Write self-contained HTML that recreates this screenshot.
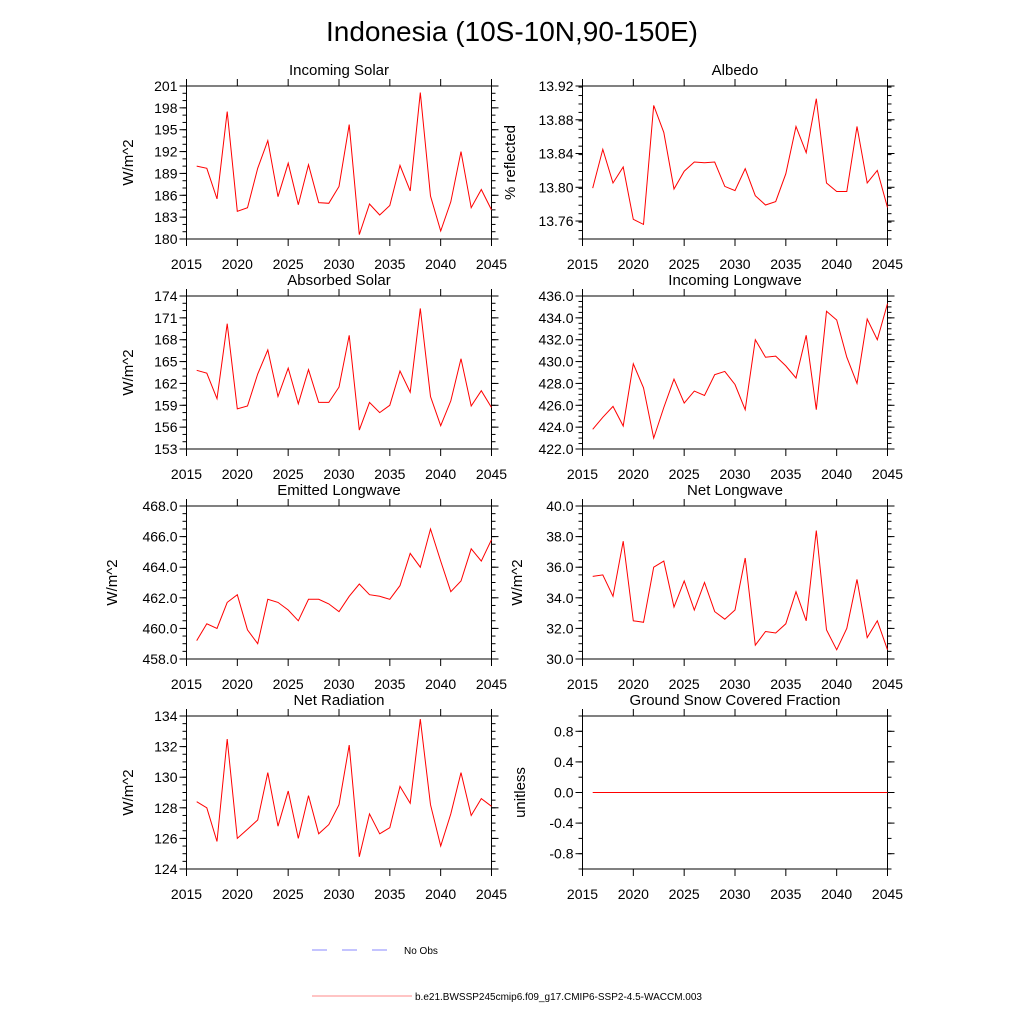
<!DOCTYPE html>
<html><head><meta charset="utf-8"><style>
body{margin:0;background:#fff}
svg{display:block}
text{font-family:"Liberation Sans",sans-serif;fill:#000}
</style></head><body>
<svg id="fig" width="1024" height="1024" viewBox="0 0 1024 1024" xmlns="http://www.w3.org/2000/svg">
<text x="512" y="41" font-size="28" text-anchor="middle">Indonesia (10S-10N,90-150E)</text>
<g>
<line x1="312" y1="950" x2="402" y2="950" stroke="#8888ff" stroke-width="1" stroke-dasharray="15,15"/>
<text x="404" y="954" font-size="10">No Obs</text>
<line x1="312" y1="996" x2="412" y2="996" stroke="#ff8888" stroke-width="1"/>
<text x="415" y="1000" font-size="10">b.e21.BWSSP245cmip6.f09_g17.CMIP6-SSP2-4.5-WACCM.003</text>
</g>
</svg>
<script>
const years = [2016,2017,2018,2019,2020,2021,2022,2023,2024,2025,2026,2027,2028,2029,2030,2031,2032,2033,2034,2035,2036,2037,2038,2039,2040,2041,2042,2043,2044,2045];
const xTicks = [2015,2020,2025,2030,2035,2040,2045];
const incomingSolar = [190.0,189.7,185.5,197.5,183.8,184.3,189.7,193.5,185.8,190.4,184.7,190.2,185.0,184.9,187.2,195.7,180.6,184.8,183.3,184.6,190.1,186.6,200.1,185.9,181.1,185.1,192.0,184.3,186.8,184.0];
const albedo = [13.799,13.845,13.805,13.824,13.762,13.756,13.897,13.865,13.798,13.819,13.830,13.829,13.830,13.801,13.796,13.822,13.790,13.779,13.783,13.816,13.872,13.841,13.905,13.805,13.795,13.795,13.872,13.805,13.820,13.776];
const absorbedSolar = [163.8,163.4,159.9,170.2,158.5,158.9,163.3,166.6,160.2,164.1,159.2,163.9,159.4,159.4,161.5,168.6,155.6,159.4,158.0,159.0,163.7,160.8,172.3,160.2,156.2,159.6,165.4,158.9,161.0,158.7];
const incomingLW = [423.8,424.9,425.9,424.1,429.8,427.6,423.0,425.8,428.4,426.2,427.3,426.9,428.8,429.1,427.9,425.6,432.0,430.4,430.5,429.6,428.5,432.4,425.6,434.6,433.8,430.4,428.0,433.9,432.0,435.3];
const emittedLW = [459.2,460.3,460.0,461.7,462.2,459.9,459.0,461.9,461.7,461.2,460.5,461.9,461.9,461.6,461.1,462.1,462.9,462.2,462.1,461.9,462.8,464.9,464.0,466.5,464.4,462.4,463.1,465.2,464.4,465.8];
const netLW = [35.4,35.5,34.1,37.7,32.5,32.4,36.0,36.4,33.4,35.1,33.2,35.0,33.1,32.6,33.2,36.6,30.9,31.8,31.7,32.3,34.4,32.5,38.4,31.9,30.6,32.0,35.2,31.4,32.5,30.6];
const netRad = [128.4,128.0,125.8,132.5,126.0,126.6,127.2,130.3,126.8,129.1,126.0,128.8,126.3,126.9,128.2,132.1,124.8,127.6,126.3,126.7,129.4,128.3,133.8,128.2,125.5,127.6,130.3,127.5,128.6,128.1];
const snowFrac = [0,0,0,0,0,0,0,0,0,0,0,0,0,0,0,0,0,0,0,0,0,0,0,0,0,0,0,0,0,0];
const ticksIS = [180,183,186,189,192,195,198,201];
const ticksAlb = [13.76,13.80,13.84,13.88,13.92];
const ticksAS = [153,156,159,162,165,168,171,174];
const ticksILW = [422,424,426,428,430,432,434,436];
const ticksELW = [458,460,462,464,466,468];
const ticksNLW = [30,32,34,36,38,40];
const ticksNR = [124,126,128,130,132,134];
const ticksSnow = [-0.8,-0.4,0,0.4,0.8];

const NS='http://www.w3.org/2000/svg';
const svg=document.getElementById('fig');
function mk(tag,attrs,parent){const e=document.createElementNS(NS,tag);for(const k in attrs)e.setAttribute(k,attrs[k]);(parent||svg).appendChild(e);return e;}

function panel(o){
  const g=mk('g',{});
  
  
  const L=o.x,R=o.x+305,T=o.y,B=o.y+153;
  const xs=v=>L+(v-2015)/30*(R-L);
  const ys=v=>B-(v-o.min)/(o.max-o.min)*(B-T);
  const frame=mk('rect',{x:L,y:T,width:R-L,height:B-T,fill:'none',stroke:'#000','stroke-width':1},g);
  
  
  xTicks.forEach(t=>{
    const x=xs(t);
    mk('line',{x1:x,y1:B,x2:x,y2:B+7,stroke:'#000'},g);
    mk('line',{x1:x,y1:T,x2:x,y2:T-7,stroke:'#000'},g);
    const tx=mk('text',{x:x,y:B+30,'font-size':14,'text-anchor':'middle'},g);
    tx.textContent=t;
    
    
  });
  const step=o.ticks[1]-o.ticks[0], ms=step/o.minor;
  for(let v=o.min;v<=o.max+1e-9;v+=ms){
    const y=ys(v);
    mk('line',{x1:L,y1:y,x2:L-4,y2:y,stroke:'#000'},g);
    mk('line',{x1:R,y1:y,x2:R+4,y2:y,stroke:'#000'},g);
  }
  o.ticks.forEach(t=>{
    const y=ys(t);
    mk('line',{x1:L,y1:y,x2:L-7,y2:y,stroke:'#000'},g);
    mk('line',{x1:R,y1:y,x2:R+7,y2:y,stroke:'#000'},g);
    const tx=mk('text',{x:L-9,y:y+5,'font-size':14,'text-anchor':'end'},g);
    tx.textContent=t.toFixed(o.dec);
    
    
  });
  const tt=mk('text',{x:(L+R)/2,y:T-11,'font-size':15,'text-anchor':'middle'},g);
  tt.textContent=o.title;
  
  
  if(o.ylab){
    const yl=mk('text',{x:0,y:0,'font-size':15,'text-anchor':'middle',transform:`translate(${o.ylx},${(T+B)/2}) rotate(-90)`},g);
    yl.textContent=o.ylab;
    
    
  }
  const pts=o.data.map((v,i)=>xs(years[i]).toFixed(1)+','+ys(v).toFixed(1)).join(' ');
  const pl=mk('polyline',{points:pts,fill:'none',stroke:'#ff0000','stroke-width':1},g);
  
  
}
panel({name:'panel-incoming-solar',title:'Incoming Solar',x:186.5,y:86,min:180,max:201,ticks:ticksIS,minor:3,dec:0,data:incomingSolar,ylab:'W/m^2',ylx:133});
panel({name:'panel-albedo',title:'Albedo',x:582.5,y:86,min:13.7387,max:13.92,ticks:ticksAlb,minor:4,dec:2,data:albedo,ylab:'% reflected',ylx:515});
panel({name:'panel-absorbed-solar',title:'Absorbed Solar',x:186.5,y:296,min:153,max:174,ticks:ticksAS,minor:3,dec:0,data:absorbedSolar,ylab:'W/m^2',ylx:133});
panel({name:'panel-incoming-longwave',title:'Incoming Longwave',x:582.5,y:296,min:422,max:436,ticks:ticksILW,minor:4,dec:1,data:incomingLW,ylab:'',ylx:0});
panel({name:'panel-emitted-longwave',title:'Emitted Longwave',x:186.5,y:506,min:458,max:468,ticks:ticksELW,minor:4,dec:1,data:emittedLW,ylab:'W/m^2',ylx:117});
panel({name:'panel-net-longwave',title:'Net Longwave',x:582.5,y:506,min:30,max:40,ticks:ticksNLW,minor:4,dec:1,data:netLW,ylab:'W/m^2',ylx:522});
panel({name:'panel-net-radiation',title:'Net Radiation',x:186.5,y:716,min:124,max:134,ticks:ticksNR,minor:4,dec:0,data:netRad,ylab:'W/m^2',ylx:133});
panel({name:'panel-snow-fraction',title:'Ground Snow Covered Fraction',x:582.5,y:716,min:-1,max:1,ticks:ticksSnow,minor:2,dec:1,data:snowFrac,ylab:'unitless',ylx:525});
</script>
</body></html>
